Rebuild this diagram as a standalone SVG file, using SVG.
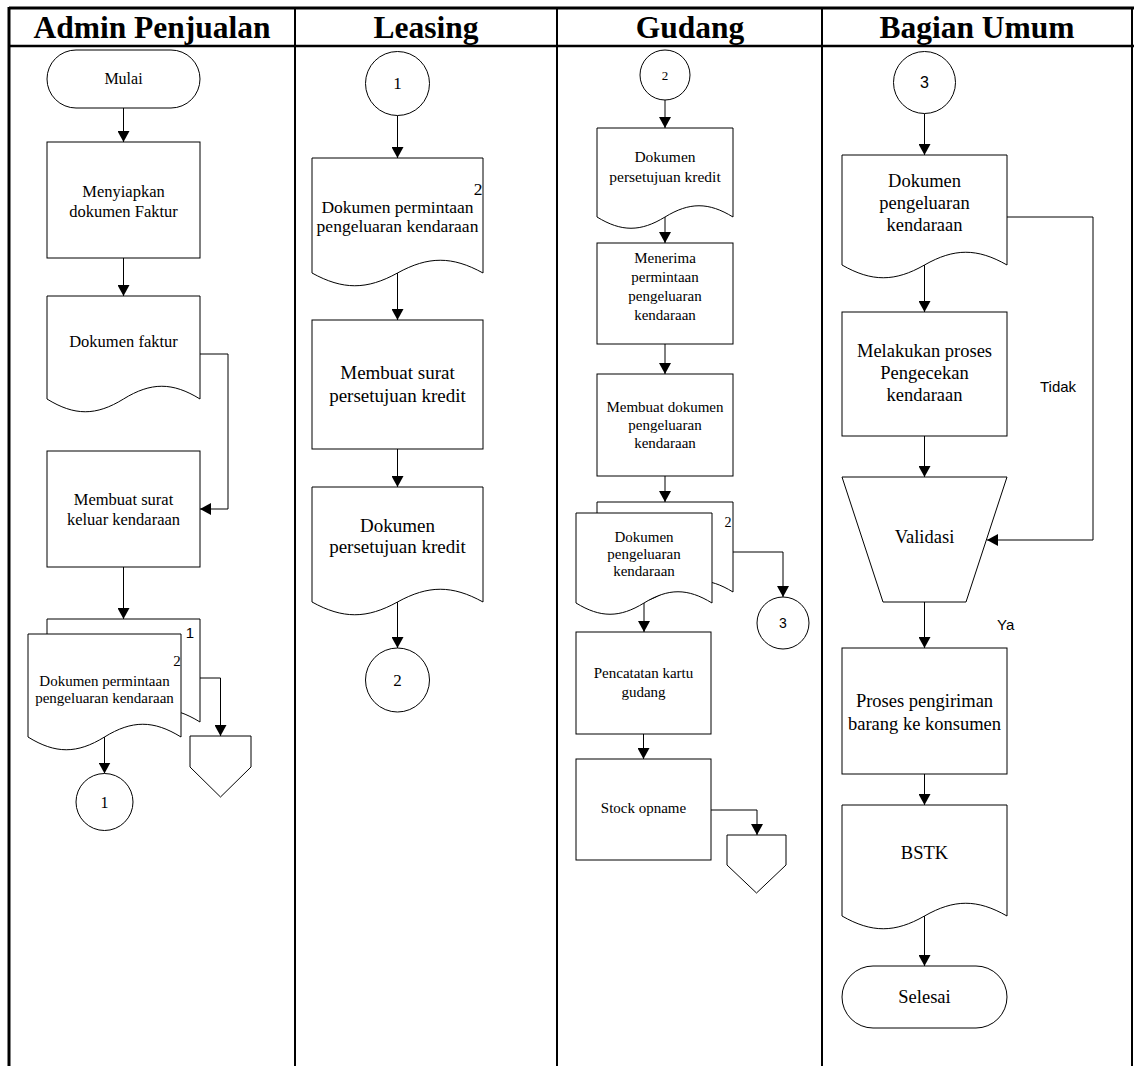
<svg xmlns="http://www.w3.org/2000/svg" width="1134" height="1066" viewBox="0 0 1134 1066">
<defs>
<marker id="ah" markerUnits="userSpaceOnUse" markerWidth="12" markerHeight="12" refX="11" refY="6" orient="auto"><path d="M0,0 L11,6 L0,12 Z" fill="#000"/></marker>
<style>
.sh{fill:#fff;stroke:#000;stroke-width:1}
.ln{fill:none;stroke:#000;stroke-width:1;marker-end:url(#ah)}
.pl{fill:none;stroke:#000;stroke-width:1}
.fr{stroke:#000;fill:none}
.t{font-family:"Liberation Serif","Times New Roman",serif;fill:#000;text-anchor:middle}
.s{font-family:"Liberation Sans",Arial,sans-serif;fill:#000}
.h{font-family:"Liberation Serif","Times New Roman",serif;font-weight:bold;font-size:31.5px;fill:#000;text-anchor:middle}
</style>
</defs>
<rect width="1134" height="1066" fill="#fff"/>
<g id="frame">
<line class="fr" x1="9" y1="8" x2="1134" y2="8" stroke-width="3"/>
<line class="fr" x1="9" y1="46" x2="1134" y2="46" stroke-width="2.5"/>
<line class="fr" x1="9" y1="7" x2="9" y2="1066" stroke-width="3"/>
<line class="fr" x1="295" y1="8" x2="295" y2="1066" stroke-width="2"/>
<line class="fr" x1="557" y1="8" x2="557" y2="1066" stroke-width="2"/>
<line class="fr" x1="822" y1="8" x2="822" y2="1066" stroke-width="2"/>
<line class="fr" x1="1132" y1="8" x2="1132" y2="1066" stroke-width="2"/>
<text class="h" x="152" y="38">Admin Penjualan</text>
<text class="h" x="426" y="38">Leasing</text>
<text class="h" x="690" y="38">Gudang</text>
<text class="h" x="977" y="38">Bagian Umum</text>
</g>
<g id="connectors">
<line class="ln" x1="123.5" y1="108" x2="123.5" y2="142"/>
<line class="ln" x1="123.5" y1="258" x2="123.5" y2="296"/>
<polyline class="ln" points="200,354 228,354 228,509 200,509"/>
<line class="ln" x1="123.5" y1="567" x2="123.5" y2="619"/>
<polyline class="ln" points="200,678 220.5,678 220.5,736"/>
<line class="ln" x1="104.5" y1="737" x2="104.5" y2="773.5"/>
<line class="ln" x1="397.5" y1="115.5" x2="397.5" y2="158"/>
<line class="ln" x1="397.5" y1="273" x2="397.5" y2="320"/>
<line class="ln" x1="397.5" y1="449" x2="397.5" y2="487"/>
<line class="ln" x1="397.5" y1="602" x2="397.5" y2="648"/>
<line class="ln" x1="665" y1="100" x2="665" y2="128"/>
<line class="ln" x1="665" y1="217" x2="665" y2="243"/>
<line class="ln" x1="665" y1="344" x2="665" y2="374"/>
<line class="ln" x1="665" y1="476" x2="665" y2="502"/>
<polyline class="ln" points="733,552 783,552 783,597"/>
<line class="ln" x1="644" y1="603" x2="644" y2="632"/>
<line class="ln" x1="643.5" y1="734" x2="643.5" y2="759"/>
<polyline class="ln" points="711,810 757,810 757,835"/>
<line class="ln" x1="924.5" y1="113.5" x2="924.5" y2="155"/>
<line class="ln" x1="924.5" y1="265" x2="924.5" y2="312"/>
<polyline class="ln" points="1007,217 1093,217 1093,540 987,540"/>
<line class="ln" x1="924.5" y1="436" x2="924.5" y2="477"/>
<line class="ln" x1="924.5" y1="602" x2="924.5" y2="648"/>
<line class="ln" x1="924.5" y1="774" x2="924.5" y2="805"/>
<line class="ln" x1="924.5" y1="916" x2="924.5" y2="966"/>
<text class="s" x="1040" y="392" font-size="15">Tidak</text>
<text class="s" x="997" y="630" font-size="15">Ya</text>
</g>
<g id="mulai">
<rect class="sh" x="47" y="50" width="153" height="58" rx="29"/>
<text class="t" x="123.5" y="84" font-size="16">Mulai</text>
</g>
<g id="menyiapkan">
<rect class="sh" x="47" y="142" width="153" height="116"/>
<text class="t" x="123.5" y="197" font-size="16.5">Menyiapkan</text>
<text class="t" x="123.5" y="217" font-size="16.5">dokumen Faktur</text>
</g>
<g id="dok-faktur">
<path class="sh" d="M47,296 H200 V399 C172.5,382 151,382 123.5,399 C96,416 74.5,416 47,399 Z"/>
<text class="t" x="123.5" y="347" font-size="16.5">Dokumen faktur</text>
</g>
<g id="membuat-surat-keluar">
<rect class="sh" x="47" y="451" width="153" height="116"/>
<text class="t" x="123.5" y="505" font-size="16.5">Membuat surat</text>
<text class="t" x="123.5" y="525" font-size="16.5">keluar kendaraan</text>
</g>
<g id="dok-permintaan-multi">
<path class="sh" d="M47,619 H200 V722 C172.5,705 151,705 123.5,722 C96,739 74.5,739 47,722 Z"/>
<path class="sh" d="M28,634 H181 V737 C153.5,720 132,720 104.5,737 C77,754 55.5,754 28,737 Z"/>
<text class="s" x="190" y="638" font-size="15" text-anchor="middle">1</text>
<text class="t" x="177" y="666" font-size="15" text-anchor="end">2</text>
<text class="t" x="104.5" y="686" font-size="15">Dokumen permintaan</text>
<text class="t" x="104.5" y="703" font-size="15">pengeluaran kendaraan</text>
</g>
<g id="offpage-1">
<polygon class="sh" points="190,736 251,736 251,767 220.5,797 190,767"/>
</g>
<g id="conn-1-out">
<circle class="sh" cx="104.5" cy="802" r="28.5"/>
<text class="t" x="104.5" y="808" font-size="16">1</text>
</g>
<g id="conn-1-in">
<circle class="sh" cx="397.5" cy="83.5" r="32"/>
<text class="t" x="397.5" y="89" font-size="17">1</text>
</g>
<g id="dok-permintaan-leasing">
<path class="sh" d="M312,158 H483 V273 C452.2,256 428.3,256 397.5,273 C366.7,290 342.8,290 312,273 Z"/>
<text class="t" x="478" y="195" font-size="17.5" text-anchor="end">2</text>
<text class="t" x="397.5" y="213" font-size="17.5">Dokumen permintaan</text>
<text class="t" x="397.5" y="232" font-size="17.5">pengeluaran kendaraan</text>
</g>
<g id="membuat-persetujuan">
<rect class="sh" x="312" y="320" width="171" height="129"/>
<text class="t" x="397.5" y="379" font-size="19">Membuat surat</text>
<text class="t" x="397.5" y="402" font-size="19">persetujuan kredit</text>
</g>
<g id="dok-persetujuan-leasing">
<path class="sh" d="M312,487 H483 V602 C452.2,585 428.3,585 397.5,602 C366.7,619 342.8,619 312,602 Z"/>
<text class="t" x="397.5" y="532" font-size="19">Dokumen</text>
<text class="t" x="397.5" y="553" font-size="19">persetujuan kredit</text>
</g>
<g id="conn-2-out">
<circle class="sh" cx="397.5" cy="680" r="32"/>
<text class="t" x="397.5" y="686" font-size="17">2</text>
</g>
<g id="conn-2-in">
<circle class="sh" cx="665" cy="75" r="25"/>
<text class="t" x="665" y="80" font-size="13">2</text>
</g>
<g id="dok-persetujuan-gudang">
<path class="sh" d="M597,128 H733 V217 C708.5,202 689.5,202 665,217 C640.5,232 621.5,232 597,217 Z"/>
<text class="t" x="665" y="162" font-size="15.5">Dokumen</text>
<text class="t" x="665" y="182" font-size="15.5">persetujuan kredit</text>
</g>
<g id="menerima">
<rect class="sh" x="597" y="243" width="136" height="101"/>
<text class="t" x="665" y="263" font-size="15">Menerima</text>
<text class="t" x="665" y="282" font-size="15">permintaan</text>
<text class="t" x="665" y="301" font-size="15">pengeluaran</text>
<text class="t" x="665" y="320" font-size="15">kendaraan</text>
</g>
<g id="membuat-dokumen">
<rect class="sh" x="597" y="374" width="136" height="102"/>
<text class="t" x="665" y="412" font-size="15">Membuat dokumen</text>
<text class="t" x="665" y="430" font-size="15">pengeluaran</text>
<text class="t" x="665" y="448" font-size="15">kendaraan</text>
</g>
<g id="dok-pengeluaran-multi">
<path class="sh" d="M597,502 H733 V592 C708.5,577 689.5,577 665,592 C640.5,607 621.5,607 597,592 Z"/>
<path class="sh" d="M576,513 H712 V603 C687.5,588 668.5,588 644,603 C619.5,618 600.5,618 576,603 Z"/>
<text class="t" x="728" y="527" font-size="14" text-anchor="end">2</text>
<text class="t" x="644" y="542" font-size="15">Dokumen</text>
<text class="t" x="644" y="559" font-size="15">pengeluaran</text>
<text class="t" x="644" y="576" font-size="15">kendaraan</text>
</g>
<g id="conn-3-out">
<circle class="sh" cx="783" cy="623" r="26"/>
<text class="s" x="783" y="628" font-size="14" text-anchor="middle">3</text>
</g>
<g id="pencatatan">
<rect class="sh" x="576" y="632" width="135" height="102"/>
<text class="t" x="643.5" y="678" font-size="15">Pencatatan kartu</text>
<text class="t" x="643.5" y="697" font-size="15">gudang</text>
</g>
<g id="stock-opname">
<rect class="sh" x="576" y="759" width="135" height="101"/>
<text class="t" x="643.5" y="813" font-size="15">Stock opname</text>
</g>
<g id="offpage-2">
<polygon class="sh" points="727,835 786,835 786,865 756.5,893 727,865"/>
</g>
<g id="conn-3-in">
<circle class="sh" cx="924.5" cy="82.5" r="31"/>
<text class="s" x="924.5" y="88" font-size="16" text-anchor="middle">3</text>
</g>
<g id="dok-pengeluaran-umum">
<path class="sh" d="M842,155 H1007 V265 C977.3,248 954.2,248 924.5,265 C894.8,282 871.7,282 842,265 Z"/>
<text class="t" x="924.5" y="187" font-size="18.5">Dokumen</text>
<text class="t" x="924.5" y="209" font-size="18.5">pengeluaran</text>
<text class="t" x="924.5" y="231" font-size="18.5">kendaraan</text>
</g>
<g id="pengecekan">
<rect class="sh" x="842" y="312" width="165" height="124"/>
<text class="t" x="924.5" y="357" font-size="18.5">Melakukan proses</text>
<text class="t" x="924.5" y="379" font-size="18.5">Pengecekan</text>
<text class="t" x="924.5" y="401" font-size="18.5">kendaraan</text>
</g>
<g id="validasi">
<polygon class="sh" points="842,477 1007,477 966,602 883,602"/>
<text class="t" x="924.5" y="543" font-size="18.5">Validasi</text>
</g>
<g id="pengiriman">
<rect class="sh" x="842" y="648" width="165" height="126"/>
<text class="t" x="924.5" y="707" font-size="18.5">Proses pengiriman</text>
<text class="t" x="924.5" y="730" font-size="18.5">barang ke konsumen</text>
</g>
<g id="bstk">
<path class="sh" d="M842,805 H1007 V916 C977.3,899 954.2,899 924.5,916 C894.8,933 871.7,933 842,916 Z"/>
<text class="t" x="924.5" y="859" font-size="18.5">BSTK</text>
</g>
<g id="selesai">
<rect class="sh" x="842" y="966" width="165" height="62" rx="31"/>
<text class="t" x="924.5" y="1003" font-size="18.5">Selesai</text>
</g>
</svg>
